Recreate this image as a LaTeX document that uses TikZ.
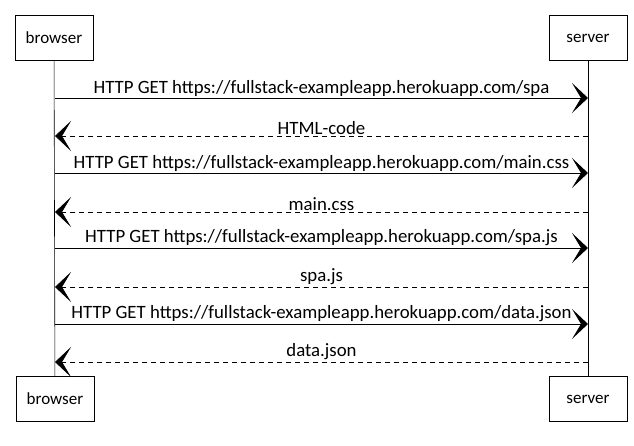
\documentclass[tikz,border=0pt]{standalone}
\usepackage{fontspec}
\setmainfont{Carlito}
\usetikzlibrary{arrows.meta}

\tikzset{
  actor/.style={draw,thick,minimum width=78pt,minimum height=45pt,font=\fontsize{17}{17}\selectfont},
  call/.style={-{Stealth[length=16pt,width=30pt,inset=9pt]},thick},
  reply/.style={call,semithick,dash pattern=on 5pt off 4pt},
  msg/.style={above,inner sep=1.5pt,font=\fontsize{18.8}{18.8}\selectfont}
}

\begin{document}
\begin{tikzpicture}[x=1pt,y=-1pt]
    \useasboundingbox (0,0) rectangle (634,446);

    % Participants
    \node[actor] (browser top) at (54,38) {browser};
    \node[actor] (server top) at (588,38) {server};
    \node[actor] (browser bottom) at (55,399) {browser};
    \node[actor] (server bottom) at (588,399) {server};

    % Lifelines
    \draw[semithick] (browser top) -- (browser bottom);
    \draw[semithick] (server top) -- (server bottom);

    % Points on the lifelines
    \coordinate (b1) at (55,98);  \coordinate (s1) at (588,98);
    \coordinate (b2) at (55,136); \coordinate (s2) at (588,136);
    \coordinate (b3) at (55,173); \coordinate (s3) at (588,173);
    \coordinate (b4) at (55,212); \coordinate (s4) at (588,212);
    \coordinate (b5) at (55,248); \coordinate (s5) at (588,248);
    \coordinate (b6) at (55,287); \coordinate (s6) at (588,287);
    \coordinate (b7) at (55,324); \coordinate (s7) at (588,324);
    \coordinate (b8) at (55,362); \coordinate (s8) at (588,362);

    % Messages
    \draw[call] (b1) -- node[msg] (m1) {HTTP GET https://fullstack-exampleapp.herokuapp.com/spa} (s1);
    \draw[reply] (s2) -- node[msg] (m2) {HTML-code} (b2);
    \draw[call] (b3) -- node[msg] (m3) {HTTP GET https://fullstack-exampleapp.herokuapp.com/main.css} (s3);
    \draw[reply] (s4) -- node[msg] (m4) {main.css} (b4);
    \draw[call] (b5) -- node[msg] (m5) {HTTP GET https://fullstack-exampleapp.herokuapp.com/spa.js} (s5);
    \draw[reply] (s6) -- node[msg] (m6) {spa.js} (b6);
    \draw[call] (b7) -- node[msg] (m7) {HTTP GET https://fullstack-exampleapp.herokuapp.com/data.json} (s7);
    \draw[reply] (s8) -- node[msg] (m8) {data.json} (b8);
\end{tikzpicture}
\end{document}
